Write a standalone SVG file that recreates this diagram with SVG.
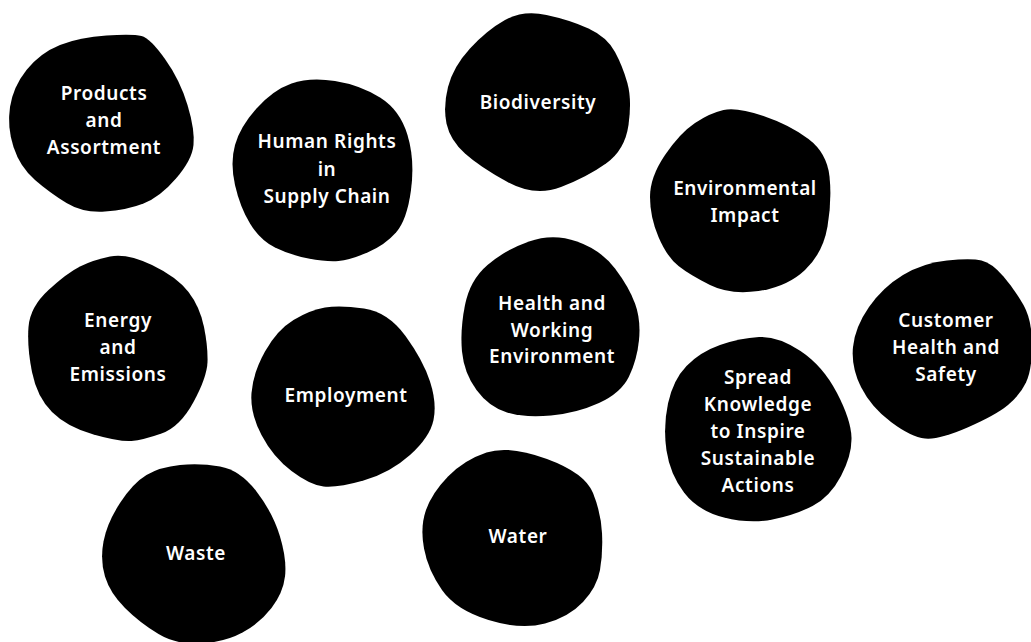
<svg xmlns="http://www.w3.org/2000/svg" width="1031" height="642" viewBox="0 0 1031 642">
<style>
.blob{fill:#000;}
.lbl{fill:#fff;font-family:"Noto Sans","Liberation Sans",sans-serif;font-weight:600;font-size:19px;letter-spacing:0.6px;text-anchor:middle;}
</style>
<rect width="1031" height="642" fill="#fff"/>
<g id="products">
<path class="blob" d="M 106.5,35.5 Q 133,34 141.5,36 Q 150,38 165,59 Q 180,80 187.5,105 Q 195,130 193.5,145 Q 192,160 176,178.5 Q 160,197 143.5,203.5 Q 127,210 105,211.5 Q 83,213 66.5,203 Q 50,193 35,180 Q 20,167 13.5,147 Q 7,127 10,107 Q 13,87 26.5,70 Q 40,53 60,45 Q 80,37 106.5,35.5 Z"/>
<text class="lbl" x="104" y="100">Products</text>
<text class="lbl" x="104" y="127">and</text>
<text class="lbl" x="104" y="154">Assortment</text>
</g>
<g id="human-rights">
<path class="blob" d="M 335,81 Q 360,85 380,97.5 Q 400,110 407.5,135 Q 415,160 411,190 Q 407,220 396,232.5 Q 385,245 367.5,252.5 Q 350,260 338.5,261 Q 327,262 308.5,258.5 Q 290,255 275,247.5 Q 260,240 250,223.5 Q 240,207 235,185 Q 230,163 235,145 Q 240,127 256.5,108.5 Q 273,90 291.5,83.5 Q 310,77 335,81 Z"/>
<text class="lbl" x="327" y="148">Human Rights</text>
<text class="lbl" x="327" y="176">in</text>
<text class="lbl" x="327" y="203">Supply Chain</text>
</g>
<g id="biodiversity">
<path class="blob" d="M 546.5,15 Q 570,20 588.5,28.5 Q 607,37 615,52 Q 623,67 627.5,83.5 Q 632,100 628.5,125 Q 625,150 606,163.5 Q 587,177 561,187 Q 535,197 507.5,182 Q 480,167 465,153.5 Q 450,140 446.5,123.5 Q 443,107 448,87 Q 453,67 470,48.5 Q 487,30 505,20 Q 523,10 546.5,15 Z"/>
<text class="lbl" x="538" y="109">Biodiversity</text>
</g>
<g id="environmental-impact">
<path class="blob" d="M 763.5,116 Q 790,125 808.5,139 Q 827,153 829.5,176.5 Q 832,200 827.5,226.5 Q 823,253 805,270 Q 787,287 758.5,291 Q 730,295 710,285 Q 690,275 678.5,266 Q 667,257 658.5,237 Q 650,217 650,197 Q 650,177 665,155 Q 680,133 695,123 Q 710,113 723.5,110 Q 737,107 763.5,116 Z"/>
<text class="lbl" x="745" y="195">Environmental</text>
<text class="lbl" x="745" y="222">Impact</text>
</g>
<g id="energy">
<path class="blob" d="M 152,265 Q 177,277 188.5,292 Q 200,307 204,327 Q 208,347 207.5,362 Q 207,377 193.5,402 Q 180,427 161.5,433.5 Q 143,440 131.5,441 Q 120,442 93.5,434.5 Q 67,427 52,412 Q 37,397 32,372 Q 27,347 28.5,327 Q 30,307 48.5,290 Q 67,273 80,266.5 Q 93,260 110,256.5 Q 127,253 152,265 Z"/>
<text class="lbl" x="118" y="327">Energy</text>
<text class="lbl" x="118" y="354">and</text>
<text class="lbl" x="118" y="381">Emissions</text>
</g>
<g id="employment">
<path class="blob" d="M 364,308.5 Q 388,312 405.5,336 Q 423,360 430,381.5 Q 437,403 433.5,420 Q 430,437 410,455 Q 390,473 363.5,480.5 Q 337,488 323.5,486.5 Q 310,485 291.5,471 Q 273,457 261.5,435 Q 250,413 251.5,393 Q 253,373 265,351.5 Q 277,330 293.5,320 Q 310,310 325,307.5 Q 340,305 364,308.5 Z"/>
<text class="lbl" x="346" y="402">Employment</text>
</g>
<g id="waste">
<path class="blob" d="M 220,466.5 Q 240,470 256.5,491.5 Q 273,513 280,536.5 Q 287,560 285,576.5 Q 283,593 271.5,608 Q 260,623 242.5,632.5 Q 225,642 201,643.5 Q 177,645 158.5,634 Q 140,623 125,608 Q 110,593 105,576.5 Q 100,560 103.5,541.5 Q 107,523 120,503 Q 133,483 146.5,475 Q 160,467 180,465 Q 200,463 220,466.5 Z"/>
<text class="lbl" x="196" y="560">Waste</text>
</g>
<g id="health-working">
<path class="blob" d="M 577,241.5 Q 601,250 615,268.5 Q 629,287 635,303.5 Q 641,320 639,340 Q 637,360 629,376.5 Q 621,393 599,403 Q 577,413 551,415.5 Q 525,418 507,412.5 Q 489,407 476.5,390 Q 464,373 462,351.5 Q 460,330 465,305 Q 470,280 487.5,265 Q 505,250 529,241.5 Q 553,233 577,241.5 Z"/>
<text class="lbl" x="552" y="310">Health and</text>
<text class="lbl" x="552" y="337">Working</text>
<text class="lbl" x="552" y="363">Environment</text>
</g>
<g id="water">
<path class="blob" d="M 547,459 Q 585,473 593,493 Q 601,513 602,533 Q 603,553 600,570 Q 597,587 583,602 Q 569,617 545,623.5 Q 521,630 488.5,620 Q 456,610 442,590 Q 428,570 424,548.5 Q 420,527 426,510 Q 432,493 448,476.5 Q 464,460 486.5,452.5 Q 509,445 547,459 Z"/>
<text class="lbl" x="518" y="543">Water</text>
</g>
<g id="spread-knowledge">
<path class="blob" d="M 800.5,351 Q 823,366 837,393 Q 851,420 851.5,437.5 Q 852,455 841,476 Q 830,497 812.5,506 Q 795,515 772.5,519.5 Q 750,524 724,517.5 Q 698,511 684,492.5 Q 670,474 666.5,450.5 Q 663,427 668,403.5 Q 673,380 686.5,366 Q 700,352 720,345 Q 740,338 759,337 Q 778,336 800.5,351 Z"/>
<text class="lbl" x="758" y="384">Spread</text>
<text class="lbl" x="758" y="411">Knowledge</text>
<text class="lbl" x="758" y="438">to Inspire</text>
<text class="lbl" x="758" y="465">Sustainable</text>
<text class="lbl" x="758" y="492">Actions</text>
</g>
<g id="customer-health">
<path class="blob" d="M 981.5,260.5 Q 992,263 1003.5,276.5 Q 1015,290 1023.5,305 Q 1032,320 1032,345 Q 1032,370 1026,382.5 Q 1020,395 1008,405 Q 996,415 967.5,427.5 Q 939,440 925,438.5 Q 911,437 891,422 Q 871,407 861,387 Q 851,367 853,347 Q 855,327 869,307 Q 883,287 903,275 Q 923,263 947,260.5 Q 971,258 981.5,260.5 Z"/>
<text class="lbl" x="946" y="327">Customer</text>
<text class="lbl" x="946" y="354">Health and</text>
<text class="lbl" x="946" y="381">Safety</text>
</g>
<g id="connectors"></g>
</svg>
